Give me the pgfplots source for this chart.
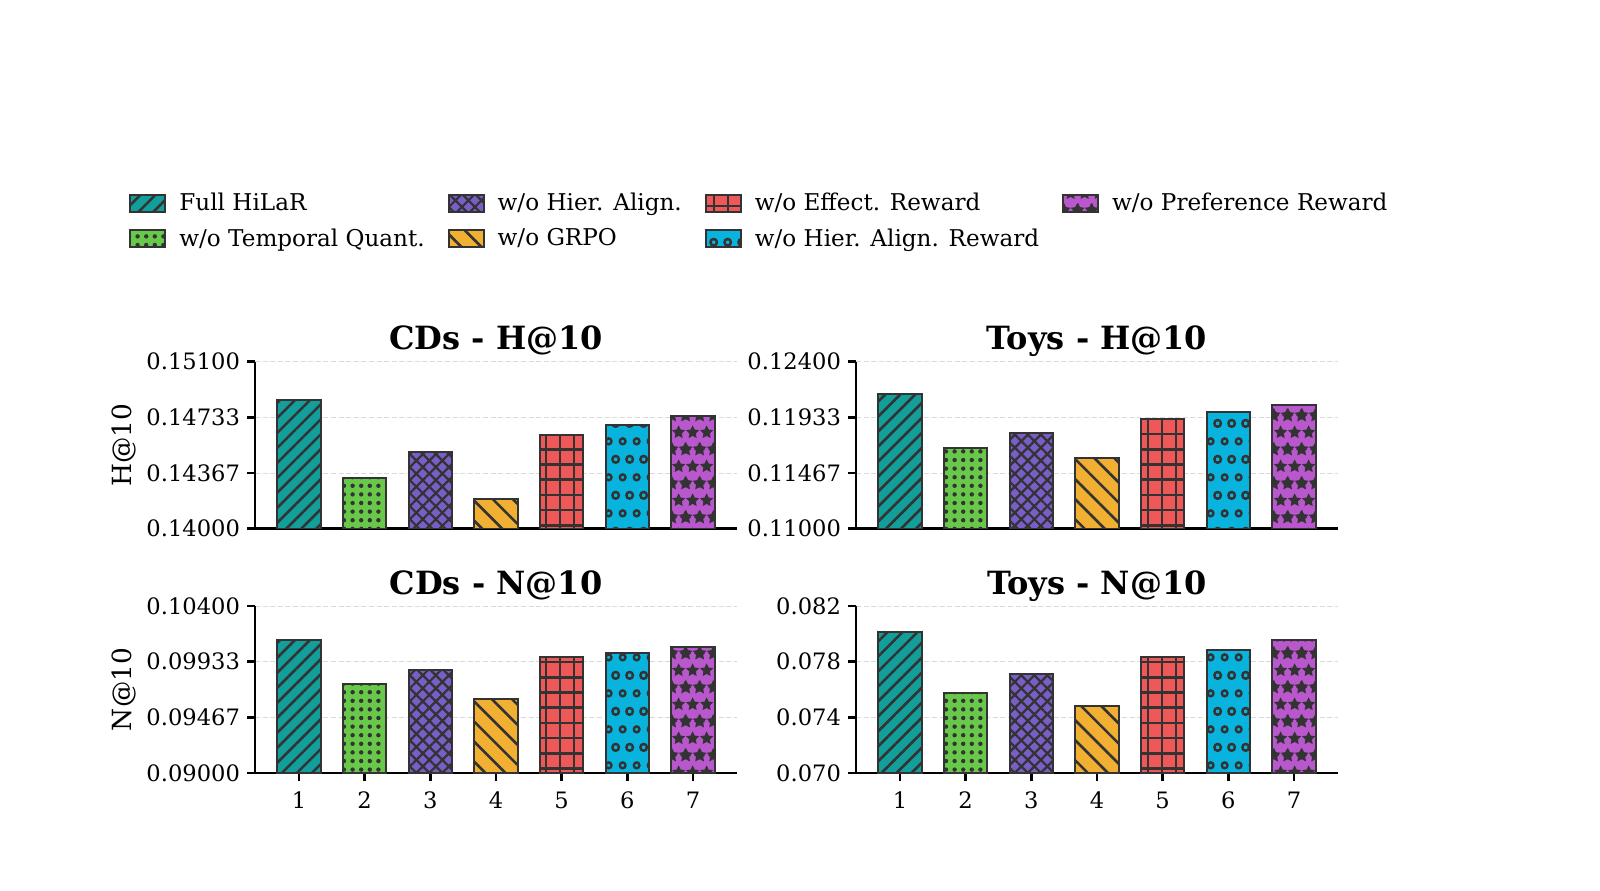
\documentclass[border=0pt]{standalone}
\usepackage{fontspec}
\setmainfont{DejaVu Serif}
\usepackage{pgfplots}
\pgfplotsset{compat=1.18}
\usetikzlibrary{patterns,patterns.meta}

\definecolor{cTeal}{RGB}{18,158,154}
\definecolor{cGreen}{RGB}{104,200,74}
\definecolor{cPurple}{RGB}{122,94,200}
\definecolor{cOrange}{RGB}{242,176,51}
\definecolor{cRed}{RGB}{238,88,88}
\definecolor{cCyan}{RGB}{8,180,222}
\definecolor{cMag}{RGB}{185,87,205}
\definecolor{edge}{RGB}{51,51,51}
\definecolor{gridc}{RGB}{218,218,218}

\def\starat#1#2{%
 \pgfpathmoveto{\pgfpointadd{\pgfpoint{#1}{#2}}{\pgfpointpolar{90}{3.6pt}}}%
 \pgfpathlineto{\pgfpointadd{\pgfpoint{#1}{#2}}{\pgfpointpolar{126}{1.8pt}}}%
 \pgfpathlineto{\pgfpointadd{\pgfpoint{#1}{#2}}{\pgfpointpolar{162}{3.6pt}}}%
 \pgfpathlineto{\pgfpointadd{\pgfpoint{#1}{#2}}{\pgfpointpolar{198}{1.8pt}}}%
 \pgfpathlineto{\pgfpointadd{\pgfpoint{#1}{#2}}{\pgfpointpolar{234}{3.6pt}}}%
 \pgfpathlineto{\pgfpointadd{\pgfpoint{#1}{#2}}{\pgfpointpolar{270}{1.8pt}}}%
 \pgfpathlineto{\pgfpointadd{\pgfpoint{#1}{#2}}{\pgfpointpolar{306}{3.6pt}}}%
 \pgfpathlineto{\pgfpointadd{\pgfpoint{#1}{#2}}{\pgfpointpolar{342}{1.8pt}}}%
 \pgfpathlineto{\pgfpointadd{\pgfpoint{#1}{#2}}{\pgfpointpolar{18}{3.6pt}}}%
 \pgfpathlineto{\pgfpointadd{\pgfpoint{#1}{#2}}{\pgfpointpolar{54}{1.8pt}}}%
 \pgfpathclose}

\pgfdeclarepattern{
  name=MyStars,
  type=uncolored,
  bottom left={\pgfpointorigin},
  top right={\pgfpoint{7pt}{17pt}},
  tile size={\pgfpoint{7pt}{17pt}},
  code={
    \starat{0pt}{0pt}\starat{7pt}{0pt}\starat{0pt}{17pt}\starat{7pt}{17pt}\starat{3.5pt}{8.5pt}
    \pgfusepath{fill}
  }
}

\pgfdeclarepattern{
  name=MyRings,
  type=uncolored,
  bottom left={\pgfpointorigin},
  top right={\pgfpoint{7pt}{18pt}},
  tile size={\pgfpoint{7pt}{18pt}},
  code={
    \pgfsetlinewidth{1.25pt}
    \pgfpathcircle{\pgfpoint{0pt}{0pt}}{1.5pt}
    \pgfpathcircle{\pgfpoint{7pt}{0pt}}{1.5pt}
    \pgfpathcircle{\pgfpoint{0pt}{18pt}}{1.5pt}
    \pgfpathcircle{\pgfpoint{7pt}{18pt}}{1.5pt}
    \pgfpathcircle{\pgfpoint{3.5pt}{9pt}}{1.5pt}
    \pgfusepath{stroke}
  }
}

\pgfplotsset{
  sA/.style={fill=cTeal, postaction={pattern={Lines[angle=45,distance=5.3pt,line width=1.3pt]}, pattern color=edge}},
  sB/.style={fill=cGreen, postaction={pattern={Dots[distance=4.3pt,radius=1.1pt]}, pattern color=edge}},
  sC/.style={fill=cPurple,
     postaction={pattern={Lines[angle=45,distance=4.6pt,line width=1.1pt]}, pattern color=edge},
     postaction={pattern={Lines[angle=-45,distance=4.6pt,line width=1.1pt]}, pattern color=edge}},
  sD/.style={fill=cOrange, postaction={pattern={Lines[angle=-45,distance=7.1pt,line width=1.3pt]}, pattern color=edge}},
  sE/.style={fill=cRed,
     postaction={pattern={Lines[angle=0,distance=7.6pt,line width=1.3pt]}, pattern color=edge},
     postaction={pattern={Lines[angle=90,distance=7pt,line width=1.3pt]}, pattern color=edge}},
  sF/.style={fill=cCyan, postaction={pattern=MyRings, pattern color=edge}},
  sG/.style={fill=cMag, postaction={pattern=MyStars, pattern color=edge}},
  panel/.style={
    scale only axis, width=241pt, height=83.5pt, anchor=south west,
    ybar, bar width=0.66, bar shift=0pt,
    xmin=0.33, xmax=7.67,
    axis x line*=bottom, axis y line*=left,
    axis line style={line width=1.3pt, black},
    tick align=outside, major tick length=4pt,
    tick style={line width=1.3pt, black},
    ymajorgrids,
    major grid style={gridc, line width=0.5pt, dash pattern=on 2.5pt off 1.3pt},
    every axis plot/.append style={draw=edge, line width=1pt, bar shift=0pt},
    scaled y ticks=false,
    /pgf/number format/assume math mode=true,
    tick label style={font=\fontsize{11.3}{13}\selectfont},
    xticklabel style={yshift=-2pt},
    title style={font=\fontsize{16}{19}\selectfont\bfseries, at={(0.5,1)}, anchor=base, yshift=0pt},
    every axis y label/.style={at={([xshift=-65.75pt]axis description cs:0,0.5)}, rotate=90, anchor=center, font=\fontsize{13.2}{15}\selectfont},
    legend image code/.code={\draw[##1,line width=1pt] (0pt,-4.2pt) rectangle (17.5pt,4.2pt);},
  },
  toprow/.style={xtick=\empty},
  botrow/.style={xtick={1,2,3,4,5,6,7}},
}

\begin{document}
\begin{tikzpicture}
\path[use as bounding box] (0,0) rectangle (800pt,445pt);

% CDs H@10
\begin{axis}[panel, toprow, at={(127.5pt,180.65pt)},
  title={CDs - H@10}, ylabel={H@10},
  ymin=0.14, ymax=0.151,
  ytick={0.14,0.1436667,0.1473333,0.151},
  yticklabels={0.14000,0.14367,0.14733,0.15100},
  legend columns=4, legend cell align=left,
  legend style={at={(axis description cs:0,1)}, anchor=west, xshift=-63pt, yshift=70.3pt,
    draw=none, fill=none, inner sep=0pt, font=\fontsize{11.55}{13.5}\selectfont, row sep=3.5pt,
    /tikz/every odd column/.append style={column sep=4.5pt},
    /tikz/every even column/.append style={column sep=9.5pt}},
]
\addplot[sA] coordinates {(1,0.14849)}; \addlegendentry{Full HiLaR}
\addplot[sC] coordinates {(3,0.14508)}; \addlegendentry{w/o Hier. Align.}
\addplot[sE] coordinates {(5,0.14620)}; \addlegendentry{w/o Effect. Reward}
\addplot[sG] coordinates {(7,0.14744)}; \addlegendentry{w/o Preference Reward}
\addplot[sB] coordinates {(2,0.14337)}; \addlegendentry{w/o Temporal Quant.}
\addplot[sD] coordinates {(4,0.14198)}; \addlegendentry{w/o GRPO}
\addplot[sF] coordinates {(6,0.14680)}; \addlegendentry{w/o Hier. Align. Reward}
\end{axis}

% Toys H@10
\begin{axis}[panel, toprow, at={(428pt,180.65pt)},
  title={Toys - H@10},
  ymin=0.11, ymax=0.124,
  ytick={0.11,0.1146667,0.1193333,0.124},
  yticklabels={0.11000,0.11467,0.11933,0.12400},
]
\addplot[sA] coordinates {(1,0.12130)};
\addplot[sB] coordinates {(2,0.11680)};
\addplot[sC] coordinates {(3,0.11806)};
\addplot[sD] coordinates {(4,0.11589)};
\addplot[sE] coordinates {(5,0.11922)};
\addplot[sF] coordinates {(6,0.11980)};
\addplot[sG] coordinates {(7,0.12039)};
\end{axis}

% CDs N@10
\begin{axis}[panel, botrow, at={(127.5pt,58.5pt)},
  title={CDs - N@10}, ylabel={N@10},
  ymin=0.09, ymax=0.104,
  ytick={0.09,0.0946667,0.0993333,0.104},
  yticklabels={0.09000,0.09467,0.09933,0.10400},
]
\addplot[sA] coordinates {(1,0.10118)};
\addplot[sB] coordinates {(2,0.09742)};
\addplot[sC] coordinates {(3,0.09862)};
\addplot[sD] coordinates {(4,0.09619)};
\addplot[sE] coordinates {(5,0.09970)};
\addplot[sF] coordinates {(6,0.10004)};
\addplot[sG] coordinates {(7,0.10060)};
\end{axis}

% Toys N@10
\begin{axis}[panel, botrow, at={(428pt,58.5pt)},
  title={Toys - N@10},
  ymin=0.07, ymax=0.082,
  ytick={0.07,0.074,0.078,0.082},
  yticklabels={0.070,0.074,0.078,0.082},
]
\addplot[sA] coordinates {(1,0.08012)};
\addplot[sB] coordinates {(2,0.07575)};
\addplot[sC] coordinates {(3,0.07711)};
\addplot[sD] coordinates {(4,0.07482)};
\addplot[sE] coordinates {(5,0.07837)};
\addplot[sF] coordinates {(6,0.07887)};
\addplot[sG] coordinates {(7,0.07954)};
\end{axis}
\end{tikzpicture}
\end{document}
